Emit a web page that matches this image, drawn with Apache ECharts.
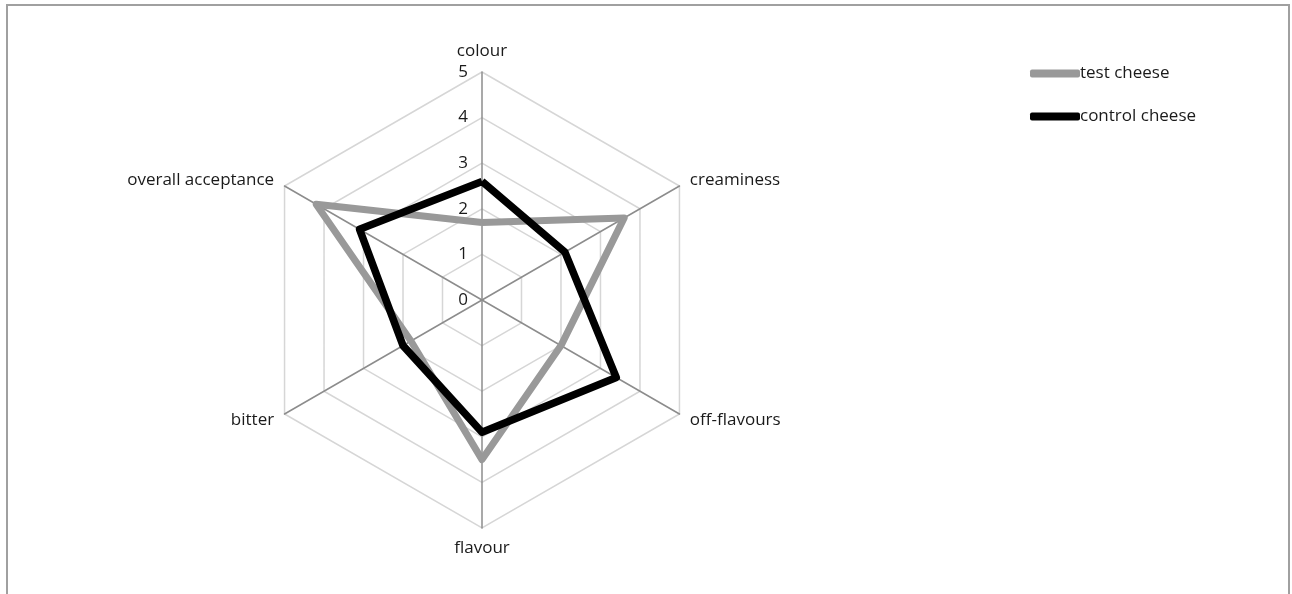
<!DOCTYPE html>
<html>
<head>
<meta charset="utf-8">
<title>cheese sensory radar</title>
<script src="https://cdn.jsdelivr.net/npm/echarts@6/dist/echarts.min.js"></script>
<style>
  html, body { margin: 0; padding: 0; background: #fff; }
  #chart { width: 1292px; height: 594px; }
  /* frame like the spreadsheet chart area */
  .frame {
    position: absolute; left: 6px; top: 4px; width: 1280px; height: 600px;
    border: 2px solid #a0a0a0; border-bottom: none; pointer-events: none;
  }
</style>
</head>
<body>
<div id="chart"></div>
<div class="frame"></div>
<script>
// attributes, clockwise from top
const attributes = ['colour', 'creaminess', 'off-flavours', 'flavour', 'bitter', 'overall acceptance'];
const testCheese = [1.7, 3.6, 2.0, 3.5, 1.8, 4.2];
const controlCheese = [2.6, 2.1, 3.4, 2.9, 2.0, 3.1];
const scaleMax = 5;
const seriesNames = ['test cheese', 'control cheese'];

// radar draws counter-clockwise, so feed it the attributes in reverse after the first
const drawOrder = [0, 5, 4, 3, 2, 1];
const pick = arr => drawOrder.map(i => arr[i]);

const textFont = "'Open Sans', 'Noto Sans', sans-serif";

const chart = echarts.init(document.getElementById('chart'));

const option = {
  animation: false,
  textStyle: { fontFamily: textFont },
  legend: {
    orient: 'vertical',
    left: 1025,
    top: 60,
    itemWidth: 50,
    itemHeight: 8,
    itemGap: 26,
    icon: 'roundRect',
    textStyle: { fontSize: 17, color: '#1a1a1a', padding: [0, 0, 0, -5] },
    data: seriesNames
  },
  radar: {
    center: [482, 300],
    radius: 228,
    startAngle: 90,
    shape: 'polygon',
    splitNumber: 5,
    nameGap: 12,
    axisName: { color: '#1a1a1a', fontSize: 17 },
    axisLine: { lineStyle: { color: '#8c8c8c', width: 1.5 } },
    splitLine: { lineStyle: { color: '#d6d6d6', width: 1.5 } },
    splitArea: { show: false },
    axisTick: { show: false },
    axisLabel: { show: true, color: '#1a1a1a', fontSize: 17, margin: 14 },
    // only the first (vertical) axis carries the scale labels
    indicator: pick(attributes).map((name, i) => ({
      name: name,
      min: 0,
      max: scaleMax,
      axisLabel: { show: i === 0 }
    }))
  },
  series: [{
    type: 'radar',
    symbol: 'none',
    data: [
      {
        name: seriesNames[0],
        value: pick(testCheese),
        itemStyle: { color: '#999999' },
        lineStyle: { color: '#999999', width: 7 }
      },
      {
        name: seriesNames[1],
        value: pick(controlCheese),
        itemStyle: { color: '#000000' },
        lineStyle: { color: '#000000', width: 7.5 }
      }
    ]
  }]
};

chart.setOption(option);
</script>
</body>
</html>
